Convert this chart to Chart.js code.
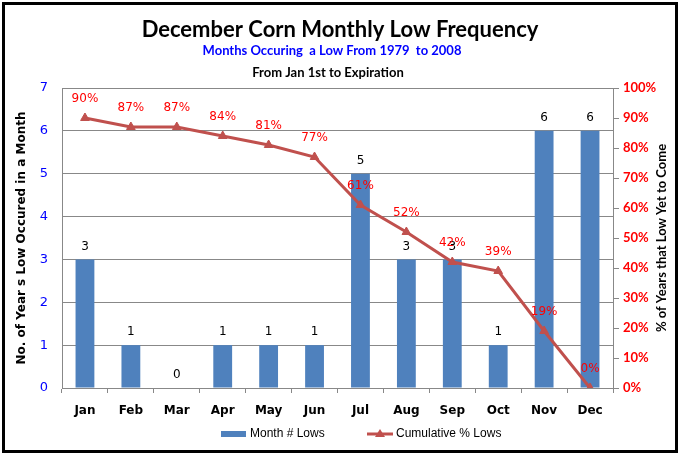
<!DOCTYPE html>
<html>
<head>
<title>December Corn Monthly Low Frequency</title>
<script src="https://cdn.jsdelivr.net/npm/chart.js"></script>
<style>
  html, body { margin: 0; padding: 0; background: #fff; }
  #wrap { position: relative; width: 680px; height: 455px; }
</style>
</head>
<body>
<div id="wrap"><canvas id="chart" width="680" height="455"></canvas></div>
<script>
// data
const months = ['Jan', 'Feb', 'Mar', 'Apr', 'May', 'Jun', 'Jul', 'Aug', 'Sep', 'Oct', 'Nov', 'Dec'];
const monthLows = [3, 1, 0, 1, 1, 1, 5, 3, 3, 1, 6, 6];
const cumulativePct = [90, 87, 87, 84, 81, 77, 61, 52, 42, 39, 19, 0];

const barColor = '#4F81BD';
const lineColor = '#C0504D';

// frame, titles, value labels and legend
const decor = {
  id: 'decor',
  beforeDraw(chart) {
    const c = chart.ctx;
    c.save();
    c.fillStyle = '#fff';
    c.fillRect(0, 0, chart.width, chart.height);
    c.restore();
  },
  afterDraw(chart) {
    const c = chart.ctx;
    c.save();
    // frame
    c.strokeStyle = '#000';
    c.lineWidth = 3;
    c.strokeRect(3.5, 3.5, 673, 448);

    c.textAlign = 'center';
    c.textBaseline = 'middle';
    c.fillStyle = '#000';
    c.font = 'bold 22px Lato, sans-serif';
    c.fillText('December Corn Monthly Low Frequency', 340, 30);
    c.fillStyle = '#0000FF';
    c.font = 'bold 13px Lato, sans-serif';
    c.fillText('Months Occuring  a Low From 1979  to 2008', 332, 51);
    c.fillStyle = '#000';
    c.fillText('From Jan 1st to Expiration', 328, 73);

    // right axis title, reading bottom to top
    c.save();
    c.translate(662, 238);
    c.rotate(-Math.PI / 2);
    c.font = 'bold 13px Lato, sans-serif';
    c.fillText('% of Years that Low Yet to Come', 0, 0);
    c.restore();

    const barMeta = chart.getDatasetMeta(0);
    const lineMeta = chart.getDatasetMeta(1);
    // bar value labels
    c.font = '12px "DejaVu Sans", sans-serif';
    c.fillStyle = '#000';
    barMeta.data.forEach((bar, i) => {
      c.fillText(String(monthLows[i]), bar.x, bar.y - 13);
    });
    // line value labels
    c.fillStyle = '#FF0000';
    lineMeta.data.forEach((pt, i) => {
      c.fillText(cumulativePct[i] + '%', pt.x, pt.y - 19);
    });

    // legend
    c.fillStyle = barColor;
    c.fillRect(221, 431, 25, 6);
    c.fillStyle = '#000';
    c.textAlign = 'left';
    c.font = '12px "Liberation Sans", sans-serif';
    c.fillText(chart.data.datasets[0].label, 250, 434);
    c.strokeStyle = lineColor;
    c.lineWidth = 3;
    c.beginPath();
    c.moveTo(367, 434);
    c.lineTo(393, 434);
    c.stroke();
    c.fillStyle = lineColor;
    c.beginPath();
    c.moveTo(380, 429);
    c.lineTo(385, 437);
    c.lineTo(375, 437);
    c.closePath();
    c.fill();
    c.fillStyle = '#000';
    c.fillText(chart.data.datasets[1].label, 396, 434);
    c.restore();
  }
};

new Chart(document.getElementById('chart'), {
  type: 'bar',
  data: {
    labels: months,
    datasets: [{
      type: 'bar',
      label: 'Month # Lows',
      data: monthLows,
      yAxisID: 'y',
      backgroundColor: barColor,
      barPercentage: 0.41,
      categoryPercentage: 1,
      order: 1
    }, {
      type: 'line',
      label: 'Cumulative % Lows',
      data: cumulativePct,
      yAxisID: 'y1',
      borderColor: lineColor,
      backgroundColor: lineColor,
      borderWidth: 3,
      pointStyle: 'triangle',
      pointRadius: 5,
      pointBorderWidth: 1,
      tension: 0,
      order: 0
    }]
  },
  options: {
    responsive: false,
    animation: false,
    layout: { padding: { top: 88, left: 5, right: 5, bottom: 5 } },
    plugins: {
      legend: { display: false },
      tooltip: { enabled: false }
    },
    scales: {
      x: {
        offset: true,
        grid: { display: true, offset: true, drawOnChartArea: false, color: '#888', tickLength: 5 },
        border: { color: '#888' },
        ticks: { color: '#000', font: { family: '"DejaVu Sans", sans-serif', size: 12, weight: 'bold' }, padding: 11 },
        afterFit(s) { s.height = 62; }
      },
      y: {
        position: 'left',
        min: 0, max: 7,
        ticks: { stepSize: 1, color: '#0000FF', font: { family: '"DejaVu Sans", sans-serif', size: 13 }, padding: 14 },
        grid: { color: '#888', tickLength: 0 },
        border: { color: '#888' },
        title: { display: true, text: 'No. of Year s Low Occured in a Month', color: '#000', padding: { top: 10, bottom: 0 }, font: { family: '"DejaVu Sans", sans-serif', size: 12, weight: 'bold' } },
        afterFit(s) { s.width = 57; }
      },
      y1: {
        position: 'right',
        min: 0, max: 100,
        ticks: { stepSize: 10, color: '#FF0000', callback: v => v + '%', font: { family: 'Lato, sans-serif', size: 13, weight: 'bold' }, padding: 4 },
        grid: { drawOnChartArea: false, color: '#888', tickLength: 6 },
        border: { color: '#888' },
        afterFit(s) { s.width = 62; }
      }
    }
  },
  plugins: [decor]
});
</script>
</body>
</html>
